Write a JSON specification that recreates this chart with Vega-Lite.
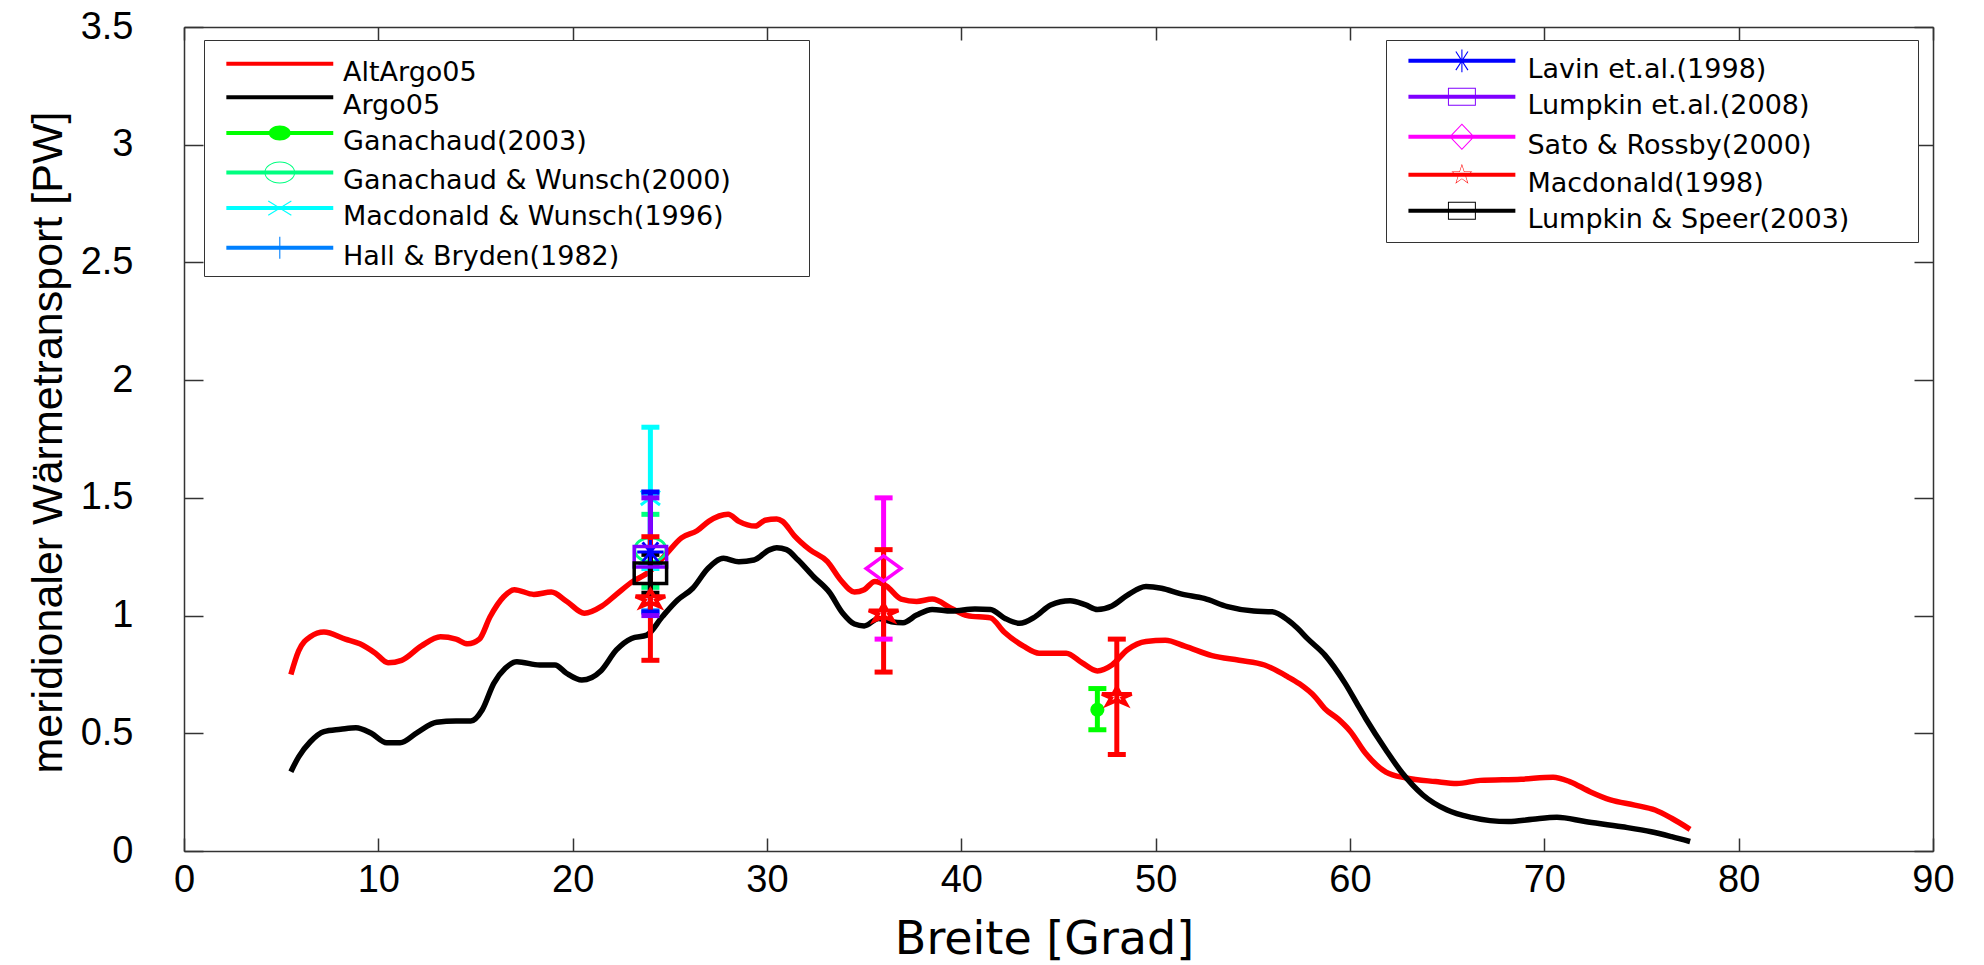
{
  "$schema": "https://vega.github.io/schema/vega-lite/v6.json",
  "width": 1749,
  "height": 824,
  "autosize": "none",
  "padding": {"left": 184, "top": 27, "right": 51, "bottom": 114},
  "background": "white",
  "datasets": {
    "curves": [
      {"series":"AltArgo05","lat":5.5,"q":0.75},{"series":"AltArgo05","lat":5.9,"q":0.85},{"series":"AltArgo05","lat":6.5,"q":0.91},{"series":"AltArgo05","lat":7.2,"q":0.93},{"series":"AltArgo05","lat":8.3,"q":0.9},{"series":"AltArgo05","lat":9.05,"q":0.88},{"series":"AltArgo05","lat":9.85,"q":0.84},{"series":"AltArgo05","lat":10.5,"q":0.8},{"series":"AltArgo05","lat":11.2,"q":0.81},{"series":"AltArgo05","lat":12.2,"q":0.87},{"series":"AltArgo05","lat":13.2,"q":0.91},{"series":"AltArgo05","lat":14.0,"q":0.9},{"series":"AltArgo05","lat":14.6,"q":0.88},{"series":"AltArgo05","lat":15.2,"q":0.9},{"series":"AltArgo05","lat":15.75,"q":0.995},{"series":"AltArgo05","lat":16.45,"q":1.08},{"series":"AltArgo05","lat":17.0,"q":1.11},{"series":"AltArgo05","lat":18.0,"q":1.09},{"series":"AltArgo05","lat":18.9,"q":1.1},{"series":"AltArgo05","lat":19.7,"q":1.06},{"series":"AltArgo05","lat":20.6,"q":1.01},{"series":"AltArgo05","lat":21.5,"q":1.04},{"series":"AltArgo05","lat":22.25,"q":1.09},{"series":"AltArgo05","lat":23.0,"q":1.14},{"series":"AltArgo05","lat":24.0,"q":1.19},{"series":"AltArgo05","lat":24.8,"q":1.26},{"series":"AltArgo05","lat":25.6,"q":1.33},{"series":"AltArgo05","lat":26.4,"q":1.36},{"series":"AltArgo05","lat":27.0,"q":1.4},{"series":"AltArgo05","lat":28.0,"q":1.43},{"series":"AltArgo05","lat":28.55,"q":1.4},{"series":"AltArgo05","lat":29.4,"q":1.38},{"series":"AltArgo05","lat":29.9,"q":1.405},{"series":"AltArgo05","lat":30.5,"q":1.41},{"series":"AltArgo05","lat":30.8,"q":1.4},{"series":"AltArgo05","lat":31.4,"q":1.34},{"series":"AltArgo05","lat":32.2,"q":1.28},{"series":"AltArgo05","lat":33.1,"q":1.23},{"series":"AltArgo05","lat":33.8,"q":1.15},{"series":"AltArgo05","lat":34.5,"q":1.1},{"series":"AltArgo05","lat":35.0,"q":1.11},{"series":"AltArgo05","lat":35.55,"q":1.145},{"series":"AltArgo05","lat":36.15,"q":1.125},{"series":"AltArgo05","lat":36.9,"q":1.07},{"series":"AltArgo05","lat":37.7,"q":1.06},{"series":"AltArgo05","lat":38.5,"q":1.07},{"series":"AltArgo05","lat":39.5,"q":1.03},{"series":"AltArgo05","lat":40.3,"q":1.0},{"series":"AltArgo05","lat":41.5,"q":0.99},{"series":"AltArgo05","lat":42.2,"q":0.93},{"series":"AltArgo05","lat":43.2,"q":0.87},{"series":"AltArgo05","lat":44.0,"q":0.84},{"series":"AltArgo05","lat":45.4,"q":0.84},{"series":"AltArgo05","lat":46.2,"q":0.8},{"series":"AltArgo05","lat":47.0,"q":0.765},{"series":"AltArgo05","lat":47.75,"q":0.79},{"series":"AltArgo05","lat":48.55,"q":0.855},{"series":"AltArgo05","lat":49.5,"q":0.89},{"series":"AltArgo05","lat":50.5,"q":0.895},{"series":"AltArgo05","lat":51.5,"q":0.87},{"series":"AltArgo05","lat":52.9,"q":0.83},{"series":"AltArgo05","lat":54.3,"q":0.81},{"series":"AltArgo05","lat":55.6,"q":0.79},{"series":"AltArgo05","lat":56.8,"q":0.74},{"series":"AltArgo05","lat":57.4,"q":0.71},{"series":"AltArgo05","lat":58.2,"q":0.655},{"series":"AltArgo05","lat":58.7,"q":0.605},{"series":"AltArgo05","lat":59.4,"q":0.56},{"series":"AltArgo05","lat":60.0,"q":0.51},{"series":"AltArgo05","lat":60.8,"q":0.415},{"series":"AltArgo05","lat":61.85,"q":0.335},{"series":"AltArgo05","lat":62.9,"q":0.31},{"series":"AltArgo05","lat":64.4,"q":0.295},{"series":"AltArgo05","lat":65.5,"q":0.287},{"series":"AltArgo05","lat":66.7,"q":0.3},{"series":"AltArgo05","lat":68.8,"q":0.305},{"series":"AltArgo05","lat":70.45,"q":0.313},{"series":"AltArgo05","lat":71.3,"q":0.295},{"series":"AltArgo05","lat":72.35,"q":0.252},{"series":"AltArgo05","lat":73.4,"q":0.217},{"series":"AltArgo05","lat":74.65,"q":0.195},{"series":"AltArgo05","lat":75.7,"q":0.174},{"series":"AltArgo05","lat":76.55,"q":0.139},{"series":"AltArgo05","lat":77.5,"q":0.092},
      {"series":"Argo05","lat":5.5,"q":0.337},{"series":"Argo05","lat":5.9,"q":0.4},{"series":"Argo05","lat":6.5,"q":0.464},{"series":"Argo05","lat":7.2,"q":0.507},{"series":"Argo05","lat":8.06,"q":0.517},{"series":"Argo05","lat":8.85,"q":0.524},{"series":"Argo05","lat":9.64,"q":0.5},{"series":"Argo05","lat":10.43,"q":0.46},{"series":"Argo05","lat":11.12,"q":0.46},{"series":"Argo05","lat":12.0,"q":0.503},{"series":"Argo05","lat":13.0,"q":0.547},{"series":"Argo05","lat":14.0,"q":0.552},{"series":"Argo05","lat":14.76,"q":0.552},{"series":"Argo05","lat":15.35,"q":0.6},{"series":"Argo05","lat":15.94,"q":0.712},{"series":"Argo05","lat":16.53,"q":0.776},{"series":"Argo05","lat":17.13,"q":0.804},{"series":"Argo05","lat":18.31,"q":0.79},{"series":"Argo05","lat":19.09,"q":0.79},{"series":"Argo05","lat":19.68,"q":0.755},{"series":"Argo05","lat":20.47,"q":0.726},{"series":"Argo05","lat":21.46,"q":0.766},{"series":"Argo05","lat":22.25,"q":0.854},{"series":"Argo05","lat":23.03,"q":0.903},{"series":"Argo05","lat":23.82,"q":0.917},{"series":"Argo05","lat":24.61,"q":0.995},{"series":"Argo05","lat":25.4,"q":1.066},{"series":"Argo05","lat":26.18,"q":1.116},{"series":"Argo05","lat":26.97,"q":1.201},{"series":"Argo05","lat":27.76,"q":1.243},{"series":"Argo05","lat":28.55,"q":1.229},{"series":"Argo05","lat":29.33,"q":1.236},{"series":"Argo05","lat":30.12,"q":1.279},{"series":"Argo05","lat":30.5,"q":1.288},{"series":"Argo05","lat":31.0,"q":1.28},{"series":"Argo05","lat":31.6,"q":1.236},{"series":"Argo05","lat":32.4,"q":1.165},{"series":"Argo05","lat":33.2,"q":1.1},{"series":"Argo05","lat":33.9,"q":1.01},{"series":"Argo05","lat":34.5,"q":0.964},{"series":"Argo05","lat":35.0,"q":0.956},{"series":"Argo05","lat":35.75,"q":0.988},{"series":"Argo05","lat":36.4,"q":0.974},{"series":"Argo05","lat":37.0,"q":0.97},{"series":"Argo05","lat":37.7,"q":1.002},{"series":"Argo05","lat":38.5,"q":1.026},{"series":"Argo05","lat":39.5,"q":1.019},{"series":"Argo05","lat":40.7,"q":1.028},{"series":"Argo05","lat":41.5,"q":1.026},{"series":"Argo05","lat":42.25,"q":0.988},{"series":"Argo05","lat":43.0,"q":0.967},{"series":"Argo05","lat":43.8,"q":0.995},{"series":"Argo05","lat":44.6,"q":1.045},{"series":"Argo05","lat":45.6,"q":1.063},{"series":"Argo05","lat":46.4,"q":1.045},{"series":"Argo05","lat":47.0,"q":1.026},{"series":"Argo05","lat":47.75,"q":1.041},{"series":"Argo05","lat":48.55,"q":1.087},{"series":"Argo05","lat":49.5,"q":1.123},{"series":"Argo05","lat":50.3,"q":1.116},{"series":"Argo05","lat":51.3,"q":1.092},{"series":"Argo05","lat":52.5,"q":1.073},{"series":"Argo05","lat":53.7,"q":1.038},{"series":"Argo05","lat":55.05,"q":1.019},{"series":"Argo05","lat":56.0,"q":1.016},{"series":"Argo05","lat":56.8,"q":0.981},{"series":"Argo05","lat":57.3,"q":0.946},{"series":"Argo05","lat":57.8,"q":0.903},{"series":"Argo05","lat":58.7,"q":0.833},{"series":"Argo05","lat":59.75,"q":0.712},{"series":"Argo05","lat":60.45,"q":0.613},{"series":"Argo05","lat":60.8,"q":0.564},{"series":"Argo05","lat":61.85,"q":0.429},{"series":"Argo05","lat":62.7,"q":0.33},{"series":"Argo05","lat":63.75,"q":0.238},{"series":"Argo05","lat":65.0,"q":0.174},{"series":"Argo05","lat":66.25,"q":0.143},{"series":"Argo05","lat":68.15,"q":0.125},{"series":"Argo05","lat":69.4,"q":0.135},{"series":"Argo05","lat":70.65,"q":0.143},{"series":"Argo05","lat":72.1,"q":0.125},{"series":"Argo05","lat":74.0,"q":0.103},{"series":"Argo05","lat":75.5,"q":0.082},{"series":"Argo05","lat":76.55,"q":0.061},{"series":"Argo05","lat":77.5,"q":0.04}
    ],
    "obs1": [
      {"series":"Ganachaud(2003)","lat":47,"q":0.6,"lo":0.515,"hi":0.69},
      {"series":"Ganachaud & Wunsch(2000)","lat":24,"q":1.28,"lo":1.12,"hi":1.43},
      {"series":"Macdonald & Wunsch(1996)","lat":24,"q":1.5,"lo":1.2,"hi":1.8},
      {"series":"Hall & Bryden(1982)","lat":24,"q":1.22,"lo":1.02,"hi":1.52}
    ],
    "obs2": [
      {"series":"Lavin et.al.(1998)","lat":24,"q":1.27,"lo":1.015,"hi":1.525},
      {"series":"Lumpkin et.al.(2008)","lat":24,"q":1.25,"lo":1.0,"hi":1.5},
      {"series":"Sato & Rossby(2000)","lat":36,"q":1.2,"lo":0.9,"hi":1.5},
      {"series":"Macdonald(1998)","lat":24,"q":1.07,"lo":0.81,"hi":1.335},
      {"series":"Macdonald(1998)","lat":36,"q":1.01,"lo":0.76,"hi":1.28},
      {"series":"Macdonald(1998)","lat":48,"q":0.655,"lo":0.41,"hi":0.9},
      {"series":"Lumpkin & Speer(2003)","lat":24,"q":1.18,"lo":1.095,"hi":1.26}
    ]
  },
  "layer": [
    {
      "layer": [
        {
          "data": {"name": "obs1"},
          "mark": {"type": "point", "filled": true, "opacity": 0, "size": 10},
          "encoding": {
            "x": {"field": "lat", "type": "quantitative", "scale": {"domain": [0, 90], "nice": false}, "axis": {"orient": "bottom", "title": "Breite [Grad]", "values": [0,10,20,30,40,50,60,70,80,90], "tickSize": -13, "labelPadding": 23, "titleX": 860, "titleY": 66, "titleBaseline": "top", "titleFont": "DejaVu Sans", "titleFontSize": 46}},
            "y": {"field": "q", "type": "quantitative", "scale": {"domain": [0, 3.5], "nice": false}, "axis": {"orient": "left", "title": "meridionaler Wärmetransport [PW]", "values": [0,0.5,1,1.5,2,2.5,3,3.5], "format": "~g", "tickSize": -19, "labelPadding": 70, "titleX": -114, "titleY": 415, "titleBaseline": "bottom", "titleAngle": -90, "titleFontSize": 43}},
            "color": {
              "field": "series", "type": "nominal",
              "scale": {"domain": ["AltArgo05","Argo05","Ganachaud(2003)","Ganachaud & Wunsch(2000)","Macdonald & Wunsch(1996)","Hall & Bryden(1982)"], "range": ["#ff0000","#000000","#00ff00","#00ff80","#00ffff","#0080ff"]},
              "legend": {
                "orient": "none", "legendX": 20, "legendY": 13, "title": " ", "titleFontSize": 1, "titlePadding": 12, "direction": "vertical",
                "padding": 6, "rowPadding": 5.6, "symbolSize": 484, "symbolStrokeWidth": 0, "symbolOpacity": 1, "symbolOffset": 56.3, "labelOffset": 49.7,
                "labelFont": "DejaVu Sans", "labelFontSize": 27, "labelColor": "#000", "labelLimit": 2000,
                "strokeColor": "#333333", "fillColor": "#ffffff"
              }
            },
            "shape": {
              "field": "series", "type": "nominal",
              "scale": {"domain": ["AltArgo05","Argo05","Ganachaud(2003)","Ganachaud & Wunsch(2000)","Macdonald & Wunsch(1996)","Hall & Bryden(1982)"],
                "range": [
                  "M-4.86,-0.98H4.86V-0.62H-4.86ZM47.5,-0.8Z",
                  "M-4.86,-0.98H4.86V-0.62H-4.86Z",
                  "M-4.86,-0.98H4.86V-0.62H-4.86ZM-1,-0.8A1,0.68 0 1,1 1,-0.8A1,0.68 0 1,1 -1,-0.8Z",
                  "M-4.86,-0.98H4.86V-0.62H-4.86ZM-1.4,-0.8A1.4,1 0 1,1 1.4,-0.8A1.4,1 0 1,1 -1.4,-0.8ZM-1.31,-0.8A1.31,0.91 0 1,0 1.31,-0.8A1.31,0.91 0 1,0 -1.31,-0.8Z",
                  "M-4.86,-0.98H4.86V-0.62H-4.86ZM-1.024,-1.493L1.076,-0.193L1.024,-0.107L-1.076,-1.407ZM-1.076,-0.193L1.024,-1.493L1.076,-1.407L-1.024,-0.107Z",
                  "M-4.86,-0.98H4.86V-0.62H-4.86ZM-0.05,-1.8H0.05V0.2H-0.05Z"
                ]}
            }
          }
        },
        {
          "data": {"name": "curves"},
          "mark": {"type": "line", "strokeWidth": 5.5, "strokeJoin": "round", "strokeCap": "butt", "interpolate": "monotone"},
          "encoding": {
            "x": {"field": "lat", "type": "quantitative", "scale": {"domain": [0, 90], "nice": false}},
            "y": {"field": "q", "type": "quantitative", "scale": {"domain": [0, 3.5], "nice": false}},
            "color": {"field": "series", "type": "nominal"}
          }
        },
        {
          "data": {"name": "obs1"},
          "mark": {"type": "rule", "strokeWidth": 5},
          "encoding": {
            "x": {"field": "lat", "type": "quantitative"},
            "y": {"field": "lo", "type": "quantitative"},
            "y2": {"field": "hi"},
            "color": {"field": "series", "type": "nominal"}
          }
        },
        {
          "data": {"name": "obs1"},
          "mark": {"type": "point", "shape": "M-1,0H1", "size": 324, "filled": false, "strokeWidth": 5, "opacity": 1},
          "encoding": {
            "x": {"field": "lat", "type": "quantitative"},
            "y": {"field": "lo", "type": "quantitative"},
            "color": {"field": "series", "type": "nominal"}
          }
        },
        {
          "data": {"name": "obs1"},
          "mark": {"type": "point", "shape": "M-1,0H1", "size": 324, "filled": false, "strokeWidth": 5, "opacity": 1},
          "encoding": {
            "x": {"field": "lat", "type": "quantitative"},
            "y": {"field": "hi", "type": "quantitative"},
            "color": {"field": "series", "type": "nominal"}
          }
        },
        {
          "data": {"name": "obs1"},
          "transform": [{"filter": "datum.series === 'Ganachaud & Wunsch(2000)'"}],
          "mark": {"type": "point", "shape": "M-1.3,0A1.3,1 0 1,1 1.3,0A1.3,1 0 1,1 -1.3,0Z", "size": 576, "filled": false, "strokeWidth": 3, "opacity": 1},
          "encoding": {
            "x": {"field": "lat", "type": "quantitative"},
            "y": {"field": "q", "type": "quantitative"},
            "color": {"field": "series", "type": "nominal"}
          }
        },
        {
          "data": {"name": "obs1"},
          "transform": [{"filter": "datum.series === 'Macdonald & Wunsch(1996)'"}],
          "mark": {"type": "point", "shape": "M-0.8,-0.6L0.8,0.6M-0.8,0.6L0.8,-0.6", "size": 576, "filled": false, "strokeWidth": 3, "opacity": 1},
          "encoding": {
            "x": {"field": "lat", "type": "quantitative"},
            "y": {"field": "q", "type": "quantitative"},
            "color": {"field": "series", "type": "nominal"}
          }
        },
        {
          "data": {"name": "obs1"},
          "transform": [{"filter": "datum.series === 'Hall & Bryden(1982)'"}],
          "mark": {"type": "point", "shape": "M-1,0H1M0,-1V1", "size": 576, "filled": false, "strokeWidth": 3, "opacity": 1},
          "encoding": {
            "x": {"field": "lat", "type": "quantitative"},
            "y": {"field": "q", "type": "quantitative"},
            "color": {"field": "series", "type": "nominal"}
          }
        },
        {
          "data": {"name": "obs1"},
          "transform": [{"filter": "datum.series === 'Ganachaud(2003)'"}],
          "mark": {"type": "point", "shape": "circle", "size": 200, "filled": true, "opacity": 1},
          "encoding": {
            "x": {"field": "lat", "type": "quantitative"},
            "y": {"field": "q", "type": "quantitative"},
            "color": {"field": "series", "type": "nominal"}
          }
        }
      ]
    },
    {
      "layer": [
        {
          "data": {"name": "obs2"},
          "mark": {"type": "point", "filled": true, "opacity": 0, "size": 10},
          "encoding": {
            "x": {"field": "lat", "type": "quantitative", "scale": {"domain": [0, 90], "nice": false}, "axis": {"orient": "top", "title": null, "labels": false, "values": [0,10,20,30,40,50,60,70,80,90], "tickSize": -13}},
            "y": {"field": "q", "type": "quantitative", "scale": {"domain": [0, 3.5], "nice": false}, "axis": {"orient": "right", "title": null, "labels": false, "values": [0,0.5,1,1.5,2,2.5,3,3.5], "tickSize": -19}},
            "color": {
              "field": "series", "type": "nominal",
              "scale": {"domain": ["Lavin et.al.(1998)","Lumpkin et.al.(2008)","Sato & Rossby(2000)","Macdonald(1998)","Lumpkin & Speer(2003)"], "range": ["#0000ff","#8000ff","#ff00ff","#ff0000","#000000"]},
              "legend": {
                "orient": "none", "legendX": 1202, "legendY": 13, "title": " ", "titleFontSize": 1, "titlePadding": 6.5, "direction": "vertical",
                "padding": 8.6, "rowPadding": 4, "symbolSize": 484, "symbolStrokeWidth": 0, "symbolOpacity": 1, "symbolOffset": 53.8, "labelOffset": 52,
                "labelFont": "DejaVu Sans", "labelFontSize": 27, "labelColor": "#000", "labelLimit": 2000,
                "strokeColor": "#333333", "fillColor": "#ffffff"
              }
            },
            "shape": {
              "field": "series", "type": "nominal",
              "scale": {"domain": ["Lavin et.al.(1998)","Lumpkin et.al.(2008)","Sato & Rossby(2000)","Macdonald(1998)","Lumpkin & Speer(2003)"],
                "range": [
                  "M-4.86,-0.98H4.86V-0.62H-4.86ZM-0.05,-1.83H0.05V0.23H-0.05ZM-0.508,-1.677L0.592,0.023L0.508,0.077L-0.592,-1.623ZM-0.592,0.023L0.508,-1.677L0.592,-1.623L-0.508,0.077ZM40.6,-0.8Z",
                  "M-4.86,-0.98H4.86V-0.62H-4.86ZM-1.27,-1.62H1.27V0.02H-1.27ZM-1.18,-1.53V-0.07H1.18V-1.53Z",
                  "M-4.86,-0.98H4.86V-0.62H-4.86ZM0,-2L1.15,-0.8L0,0.4L-1.15,-0.8ZM0,-1.87L-1.02,-0.8L0,0.27L1.02,-0.8Z",
                  "M-4.86,-0.98H4.86V-0.62H-4.86ZM0,-1.8L0.2245,-1.109L0.951,-1.109L0.3633,-0.682L0.588,0.009L0,-0.418L-0.588,0.009L-0.3633,-0.682L-0.951,-1.109L-0.2245,-1.109ZM0,-1.65L-0.191,-1.063L-0.808,-1.063L-0.309,-0.7L-0.5,-0.112L0,-0.475L0.5,-0.112L0.309,-0.7L0.808,-1.063L0.191,-1.063Z",
                  "M-4.86,-0.98H4.86V-0.62H-4.86ZM-1.27,-1.62H1.27V0.02H-1.27ZM-1.18,-1.53V-0.07H1.18V-1.53Z"
                ]}
            }
          }
        },
        {
          "data": {"name": "obs2"},
          "mark": {"type": "rule", "strokeWidth": 5},
          "encoding": {
            "x": {"field": "lat", "type": "quantitative"},
            "y": {"field": "lo", "type": "quantitative"},
            "y2": {"field": "hi"},
            "color": {"field": "series", "type": "nominal"}
          }
        },
        {
          "data": {"name": "obs2"},
          "mark": {"type": "point", "shape": "M-1,0H1", "size": 324, "filled": false, "strokeWidth": 5, "opacity": 1},
          "encoding": {
            "x": {"field": "lat", "type": "quantitative"},
            "y": {"field": "lo", "type": "quantitative"},
            "color": {"field": "series", "type": "nominal"}
          }
        },
        {
          "data": {"name": "obs2"},
          "mark": {"type": "point", "shape": "M-1,0H1", "size": 324, "filled": false, "strokeWidth": 5, "opacity": 1},
          "encoding": {
            "x": {"field": "lat", "type": "quantitative"},
            "y": {"field": "hi", "type": "quantitative"},
            "color": {"field": "series", "type": "nominal"}
          }
        },
        {
          "data": {"name": "obs2"},
          "transform": [{"filter": "datum.series === 'Lavin et.al.(1998)'"}],
          "mark": {"type": "point", "shape": "M-1.1,0H1.1M0,-1V1M-0.65,-0.8L0.65,0.8M-0.65,0.8L0.65,-0.8", "size": 576, "filled": false, "strokeWidth": 3, "opacity": 1},
          "encoding": {
            "x": {"field": "lat", "type": "quantitative"},
            "y": {"field": "q", "type": "quantitative"},
            "color": {"field": "series", "type": "nominal"}
          }
        },
        {
          "data": {"name": "obs2"},
          "transform": [{"filter": "datum.series === 'Lumpkin et.al.(2008)'"}],
          "mark": {"type": "point", "shape": "M-1.35,-0.85H1.35V0.85H-1.35Z", "size": 576, "filled": false, "strokeWidth": 3.5, "opacity": 1},
          "encoding": {
            "x": {"field": "lat", "type": "quantitative"},
            "y": {"field": "q", "type": "quantitative"},
            "color": {"field": "series", "type": "nominal"}
          }
        },
        {
          "data": {"name": "obs2"},
          "transform": [{"filter": "datum.series === 'Sato & Rossby(2000)'"}],
          "mark": {"type": "point", "shape": "M0,-1.05L1.45,0L0,1.05L-1.45,0Z", "size": 576, "filled": false, "strokeWidth": 3.5, "opacity": 1},
          "encoding": {
            "x": {"field": "lat", "type": "quantitative"},
            "y": {"field": "q", "type": "quantitative"},
            "color": {"field": "series", "type": "nominal"}
          }
        },
        {
          "data": {"name": "obs2"},
          "transform": [{"filter": "datum.series === 'Macdonald(1998)'"}],
          "mark": {"type": "point", "shape": "M0,-0.75L0.292,-0.232L1.236,-0.232L0.472,0.089L0.764,0.607L0,0.287L-0.764,0.607L-0.472,0.089L-1.236,-0.232L-0.292,-0.232Z", "size": 576, "filled": false, "strokeWidth": 4, "opacity": 1},
          "encoding": {
            "x": {"field": "lat", "type": "quantitative"},
            "y": {"field": "q", "type": "quantitative"},
            "color": {"field": "series", "type": "nominal"}
          }
        },
        {
          "data": {"name": "obs2"},
          "transform": [{"filter": "datum.series === 'Lumpkin & Speer(2003)'"}],
          "mark": {"type": "point", "shape": "M-1.35,-0.85H1.35V0.85H-1.35Z", "size": 576, "filled": false, "strokeWidth": 3.5, "opacity": 1},
          "encoding": {
            "x": {"field": "lat", "type": "quantitative"},
            "y": {"field": "q", "type": "quantitative"},
            "color": {"field": "series", "type": "nominal"}
          }
        }
      ]
    }
  ],
  "resolve": {
    "scale": {"color": "independent", "shape": "independent"},
    "axis": {"x": "independent", "y": "independent"}
  },
  "config": {
    "font": "Liberation Sans",
    "view": {"stroke": null},
    "axis": {
      "grid": false,
      "domainColor": "#333333",
      "domainWidth": 1.5,
      "tickColor": "#333333",
      "tickWidth": 1.5,
      "labelColor": "#000000",
      "labelFont": "Liberation Sans",
      "labelFontSize": 38,
      "titleColor": "#000000",
      "titleFont": "Liberation Sans",
      "titleFontWeight": "normal",
      "labelFlush": false,
      "labelOverlap": false
    }
  }
}
